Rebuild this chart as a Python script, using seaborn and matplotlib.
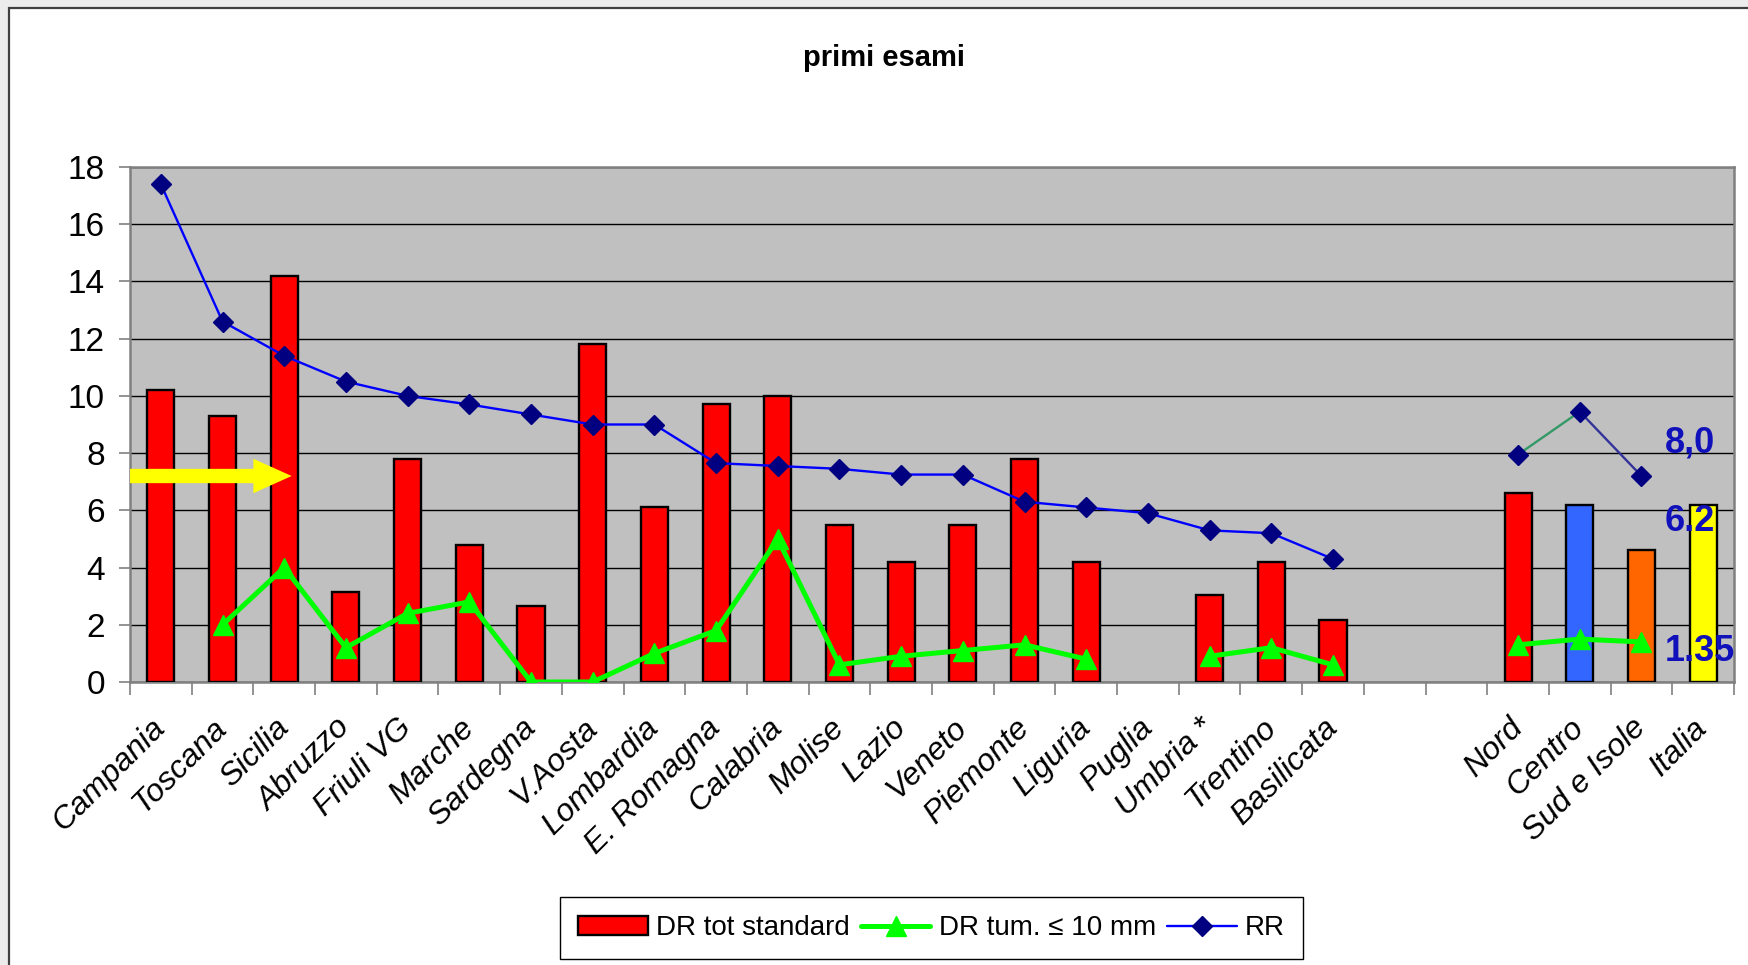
import numpy as np
import pandas as pd
import matplotlib
matplotlib.use("Agg")
import matplotlib.pyplot as plt
from matplotlib.patches import Rectangle, Patch, FancyArrow
from matplotlib.lines import Line2D
import seaborn as sns

categories = ["Campania", "Toscana", "Sicilia", "Abruzzo", "Friuli VG", "Marche",
              "Sardegna", "V.Aosta", "Lombardia", "E. Romagna", "Calabria", "Molise",
              "Lazio", "Veneto", "Piemonte", "Liguria", "Puglia", "Umbria *",
              "Trentino", "Basilicata", " ", "  ", "Nord", "Centro", "Sud e Isole", "Italia"]
dr_tot = [10.2, 9.3, 14.2, 3.15, 7.8, 4.8, 2.65, 11.8, 6.1, 9.7, 10.0, 5.5,
          4.2, 5.5, 7.8, 4.2, np.nan, 3.05, 4.2, 2.15, np.nan, np.nan, 6.6, 6.2, 4.6, 6.2]
dr_small = [np.nan, 2.0, 4.0, 1.2, 2.4, 2.8, 0.0, 0.0, 1.0, 1.8, 5.0, 0.6,
            0.9, 1.1, 1.3, 0.8, np.nan, 0.9, 1.2, 0.6, np.nan, np.nan, 1.3, 1.5, 1.4, np.nan]
rr = [17.4, 12.6, 11.4, 10.5, 10.0, 9.7, 9.35, 9.0, 9.0, 7.65, 7.55, 7.45,
      7.25, 7.25, 6.3, 6.1, 5.9, 5.3, 5.2, 4.3, np.nan, np.nan, 7.95, 9.45, 7.2, np.nan]
bar_colors = ["#ff0000"] * 22 + ["#ff0000", "#3366ff", "#ff6600", "#ffff00"]
annotations = [("8,0", 8.35), ("6.2", 5.6), ("1.35", 1.05)]
arrow_y = 7.2
title = "primi esami"
legend_labels = ["DR tot standard", "DR tum. \u2264 10 mm", "RR"]

sns.set_theme(style="white")
plt.rcParams["font.family"] = ["Liberation Sans", "DejaVu Sans"]
plt.rcParams["text.color"] = "black"
plt.rcParams["xtick.color"] = "black"
plt.rcParams["ytick.color"] = "black"

fig = plt.figure(figsize=(17.48, 9.65), dpi=100, facecolor="#ececec")
fig.patches.append(Rectangle((9 / 1748, -0.1), 1.2, 1.1 - 8 / 965, transform=fig.transFigure,
                             facecolor="white", edgecolor="#404040", linewidth=1.6, zorder=-10))

ax = fig.add_axes([130 / 1748, 1 - 682 / 965, (1734 - 130) / 1748, (682 - 167) / 965])
ax.set_zorder(2)
ax.set_facecolor("#c0c0c0")

df = pd.DataFrame({"cat": categories, "val": dr_tot})
sns.barplot(data=df, x="cat", y="val", hue="cat", palette=bar_colors, order=categories,
            hue_order=categories, legend=False, width=0.44, edgecolor="black",
            linewidth=1.7, saturation=1, ax=ax, zorder=3)

x = np.arange(len(categories))
rr_arr = np.array(rr, dtype=float)
n_reg = 20
rr_reg = rr_arr.copy(); rr_reg[n_reg:] = np.nan
ax.plot(x, rr_reg, color="#0000ff", lw=1.7, zorder=4)
ax.plot(x[22:24], rr_arr[22:24], color="#339966", lw=1.7, zorder=4)
ax.plot(x[23:25], rr_arr[23:25], color="#333399", lw=1.7, zorder=4)
ax.plot(x, rr_arr, ls="none", marker="D", ms=10.5, color="#000080", zorder=5)

ax.plot(x, dr_small, color="#00ff00", lw=3.6, marker="^", ms=14.5, zorder=6)

for txt, yv in annotations:
    ax.text(24.38, yv, txt, color="#1111bb", fontsize=26, fontweight="bold",
            ha="left", va="center", zorder=7, clip_on=False)

ax.add_patch(FancyArrow(-0.5, arrow_y, 2.62, 0, width=0.5, head_width=1.2, head_length=0.62,
                        length_includes_head=True, color="#ffff00", zorder=6, lw=0))

ax.set_xlim(-0.5, len(categories) - 0.5)
ax.set_ylim(0, 18)
ax.set_yticks(np.arange(0, 19, 2))
ax.yaxis.grid(True, color="black", lw=1.0, zorder=1)
ax.set_axisbelow(True)
ax.set_xlabel(""); ax.set_ylabel("")
ax.tick_params(axis="y", labelsize=24, length=8, width=1.2, color="#808080", labelcolor="black",
               pad=10, left=True)
ax.set_xticks(x)
ax.set_xticklabels(categories, rotation=45, ha="right", va="center", rotation_mode="anchor",
                   fontsize=23, fontstyle="italic", color="black")
ax.tick_params(axis="x", which="major", length=0, pad=30)
ax.set_xticks(np.arange(-0.5, len(categories), 1), minor=True)
ax.tick_params(axis="x", which="minor", length=9, width=1.2, color="#808080", bottom=True)
for s in ax.spines.values():
    s.set_color("#808080"); s.set_linewidth(1.8); s.set_visible(True)

fig.text(0.506, 0.94, title, ha="center", va="center", fontsize=21, fontweight="bold",
         color="black")

handles = [Patch(facecolor="#ff0000", edgecolor="black", lw=1.7),
           Line2D([], [], color="#00ff00", lw=3.6, marker="^", ms=14.5),
           Line2D([], [], color="#0000ff", lw=1.7, marker="D", ms=10.5, mfc="#000080", mec="#000080")]
leg = fig.legend(handles, legend_labels, loc="center", bbox_to_anchor=(0.533, 0.038), ncol=3,
                 frameon=True, fancybox=False, edgecolor="black", framealpha=1,
                 prop={"size": 20}, handlelength=2.5, columnspacing=0.4,
                 handletextpad=0.3, borderpad=0.65, labelcolor="black")
leg.get_frame().set_linewidth(1.0)

fig.savefig("out.png", dpi=100, facecolor=fig.get_facecolor())
